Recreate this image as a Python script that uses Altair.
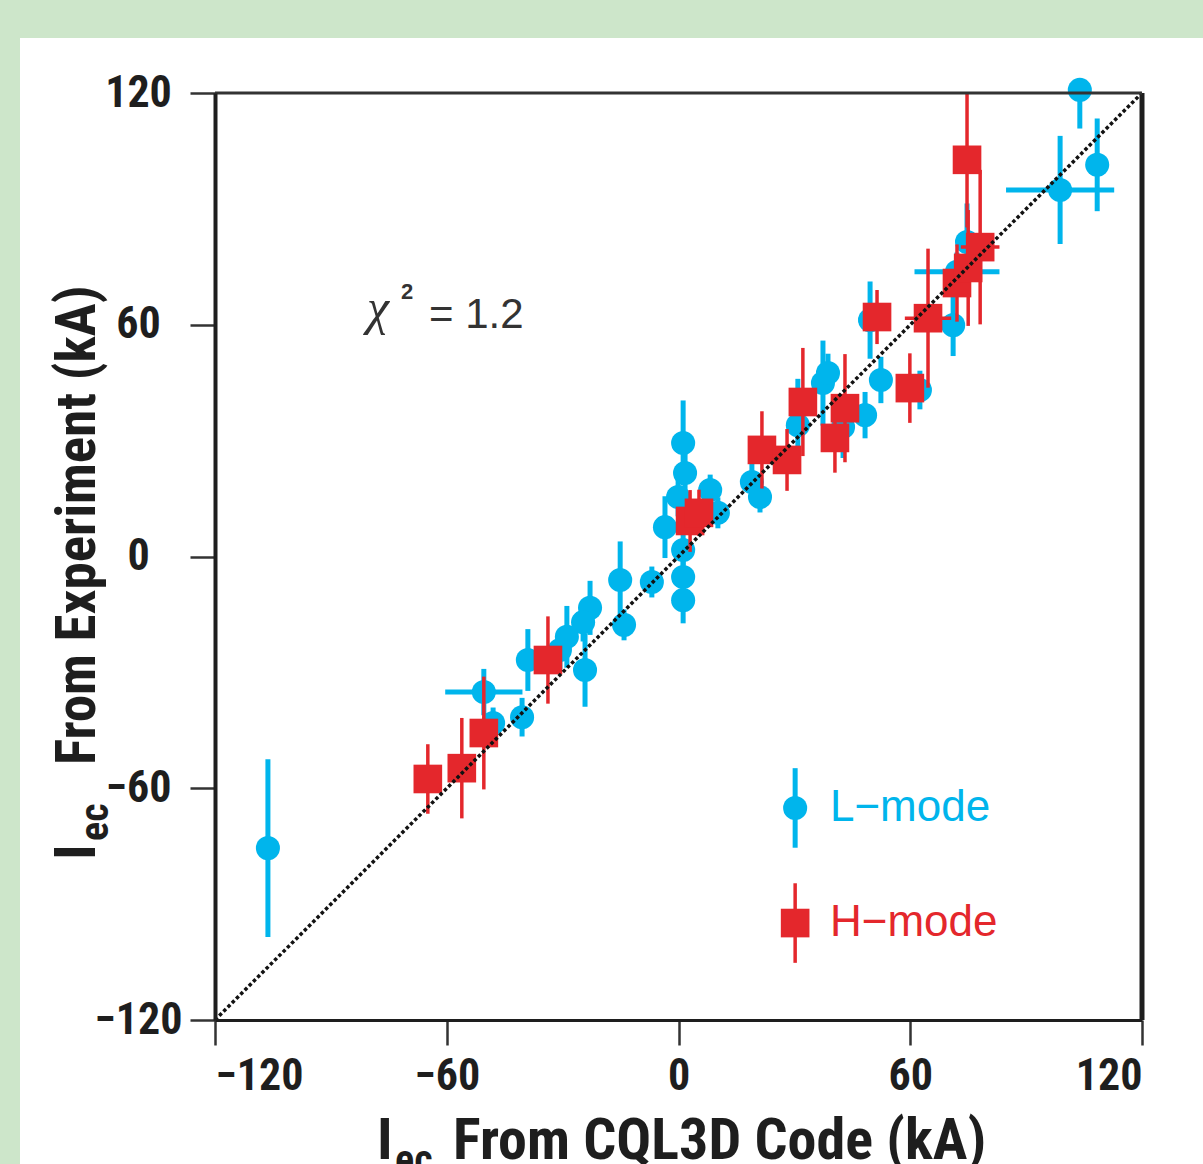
import altair as alt
import pandas as pd

# ---------------- data (kA) ----------------
# L-mode (blue circles)
l_x = [-106.3, 103.9, 108.4, 98.8, 74.7, 72.1, 71.1, 49.6, 52.4, 62.5, 48.3, 37.4, 38.7,
       30.9, 42.6, 19.0, 21.1, 10.2, 8.2, 1.2, 1.7, -0.1, -3.5, 1.2, 1.2, 1.2, -6.9,
       -15.1, -14.1, -22.9, -24.7, -28.9, -24.2, -30.7, -39.0, -50.4, -40.5, -48.0]
l_y = [-75.5, 120.8, 101.4, 94.9, 81.4, 73.7, 59.9, 61.2, 45.7, 43.1, 36.6, 44.9, 47.5,
       34.0, 33.5, 19.3, 15.4, 11.3, 17.2, 29.4, 21.6, 15.4, 7.6, 1.7, -5.3, -11.3, -6.6,
       -6.1, -17.7, -13.3, -17.0, -20.8, -29.4, -24.2, -26.8, -35.1, -41.6, -43.1]
l_yerr = [23, 10, 12, 14, 10, 5, 8, 10, 6, 5, 6, 11, 5,
          12, 8, 5, 4, 4, 4, 11, 5, 5, 8, 4, 5, 6, 4,
          10, 4, 7, 5, 8, 9.5, 5, 8, 6, 5, 4]
l_xerr = [0, 0, 0, 14, 0, 11, 0, 3, 0, 0, 0, 0, 0,
          0, 0, 0, 0, 0, 0, 0, 0, 0, 0, 0, 0, 0, 0,
          0, 0, 0, 0, 0, 0, 0, 0, 10, 0, 0]

# H-mode (red squares)
h_x = [-64.9, -56.1, -50.4, -33.8, 3.0, 5.3, 21.6, 28.1, 32.2, 40.5, 43.1, 51.4, 59.9,
       64.6, 72.1, 75.0, 78.1, 74.7]
h_y = [-57.6, -54.8, -45.7, -26.8, 9.2, 11.3, 27.6, 25.0, 40.0, 30.7, 38.4, 62.0, 43.6,
       61.7, 70.8, 74.7, 80.1, 102.7]
h_yerr = [9, 13, 14.6, 11.3, 8, 6, 10, 8, 14, 9, 14, 7, 9,
          18, 10, 15, 20, 17.5]
h_xerr = [0, 0, 0, 0, 0, 0, 0, 0, 0, 0, 0, 0, 0,
          6, 0, 0, 5, 0]

ticks = [-120, -60, 0, 60, 120]
legend_labels = ["L\u2212mode", "H\u2212mode"]
chi_parts = ["\u03c7", "2", "= 1.2"]
x_title_parts = ["I", "ec", "From CQL3D Code (kA)"]
y_title_parts = ["I", "ec", "From Experiment (kA)"]

# ---------------- styles ----------------
BLUE = "#00b5ec"
RED = "#e4272c"
GREEN = "#cde6ca"
INK = "#1e1e1e"
BOLD = "Liberation Sans Narrow, Arial Narrow, Roboto Condensed, DejaVu Sans Condensed, sans-serif"
SANS = "Liberation Sans, Arial, Helvetica, sans-serif"
SERIF = "Liberation Serif, Times New Roman, serif"
W = H = 927

blue = pd.DataFrame({"x": l_x, "y": l_y, "ye": l_yerr, "xe": l_xerr})
red = pd.DataFrame({"x": h_x, "y": h_y, "ye": h_yerr, "xe": h_xerr})

xs = alt.Scale(domain=[ticks[0], ticks[-1]], nice=False, zero=False)
ys = alt.Scale(domain=[ticks[0], ticks[-1]], nice=False, zero=False)

xaxis = alt.Axis(values=ticks, title=None, grid=False, domainColor=INK, domainWidth=3,
                 tickColor="#333", tickWidth=2.5, tickSize=25, labelFont=BOLD,
                 labelFontSize=44, labelFontWeight="bold", labelColor=INK,
                 labelPadding=9, labelFlush=True, format="d", zindex=2)
yaxis = alt.Axis(values=ticks, title=None, grid=False, domainColor=INK, domainWidth=4,
                 tickColor="#333", tickWidth=2.5, tickSize=25, labelFont=BOLD,
                 labelFontSize=44, labelFontWeight="bold", labelColor=INK,
                 labelAlign="center", labelBaseline="middle", labelPadding=52, format="d",
                 zindex=2)

X = alt.X("x:Q", scale=xs, axis=xaxis)
Y = alt.Y("y:Q", scale=ys, axis=yaxis)

anno = pd.DataFrame({"k": [0]})

# background panels
green_bg = alt.Chart(anno).mark_rect(color=GREEN).encode(
    x=alt.value(-215), x2=alt.value(988), y=alt.value(-93), y2=alt.value(1071))
white_bg = alt.Chart(anno).mark_rect(color="white").encode(
    x=alt.value(-195), x2=alt.value(988), y=alt.value(-55), y2=alt.value(1071))


def series(df, color, ew, marker):
    v = alt.Chart(df).transform_calculate(
        lo="datum.y - datum.ye", hi="min(datum.y + datum.ye, 120)"
    ).mark_rule(color=color, strokeWidth=ew).encode(
        x=X, y=alt.Y("lo:Q", scale=ys, axis=yaxis), y2="hi:Q")
    h = alt.Chart(df).transform_filter("datum.xe > 0").transform_calculate(
        lo="datum.x - datum.xe", hi="datum.x + datum.xe"
    ).mark_rule(color=color, strokeWidth=ew).encode(
        x=alt.X("lo:Q", scale=xs, axis=xaxis), x2="hi:Q", y=Y)
    return v + h + marker.encode(x=X, y=Y)


blue_layer = series(blue, BLUE, 5,
                    alt.Chart(blue).mark_circle(size=580, color=BLUE, opacity=1))
red_layer = series(red, RED, 3.5,
                   alt.Chart(red).mark_square(size=820, color=RED, opacity=1))

diag = alt.Chart(pd.DataFrame({"x": [ticks[0], ticks[-1]], "y": [ticks[0], ticks[-1]]})).mark_line(
    color="#111", strokeWidth=3.5, strokeDash=[3.5, 2.5]).encode(x=X, y=Y)

right_border = alt.Chart(anno).mark_rule(color=INK, strokeWidth=5).encode(
    x=alt.value(W), y=alt.value(0), y2=alt.value(H))
top_border = alt.Chart(anno).mark_rule(color="#333", strokeWidth=3).encode(
    x=alt.value(0), x2=alt.value(W), y=alt.value(0))

# legend
leg_x, leg_tx = 30.2, 39.2
leg_y = [-65.1, -94.9]
leg_e = 10.3
legend = []
for lab, yy, col, mk in [(legend_labels[0], leg_y[0], BLUE, "circle"),
                         (legend_labels[1], leg_y[1], RED, "square")]:
    d = pd.DataFrame({"t": [lab]})
    legend.append(alt.Chart(d).mark_rule(color=col, strokeWidth=5 if mk == "circle" else 3.5).encode(
        x=alt.datum(leg_x, scale=xs), y=alt.datum(yy - leg_e, scale=ys), y2=alt.datum(yy + leg_e)))
    if mk == "circle":
        legend.append(alt.Chart(d).mark_circle(size=580, color=col, opacity=1).encode(
            x=alt.datum(leg_x, scale=xs), y=alt.datum(yy, scale=ys)))
    else:
        legend.append(alt.Chart(d).mark_square(size=820, color=col, opacity=1).encode(
            x=alt.datum(leg_x, scale=xs), y=alt.datum(yy, scale=ys)))
    legend.append(alt.Chart(d).mark_text(font=SANS, fontSize=44, color=col, align="left",
                                         baseline="middle").encode(
        x=alt.datum(leg_tx, scale=xs), y=alt.datum(yy, scale=ys), text="t:N"))

# chi-square annotation
chi = [
    alt.Chart(pd.DataFrame({"t": [chi_parts[0]]})).mark_text(
        font=SERIF, fontStyle="italic", fontSize=50, color="#333", align="left",
        baseline="alphabetic").encode(x=alt.value(152), y=alt.value(231), text="t:N"),
    alt.Chart(pd.DataFrame({"t": [chi_parts[1]]})).mark_text(
        font=SANS, fontSize=22, fontWeight="bold", color="#333", align="left",
        baseline="alphabetic").encode(x=alt.value(186), y=alt.value(206), text="t:N"),
    alt.Chart(pd.DataFrame({"t": [chi_parts[2]]})).mark_text(
        font=SANS, fontSize=42, color="#333", align="left",
        baseline="alphabetic").encode(x=alt.value(214), y=alt.value(235), text="t:N"),
]

# axis titles built from parts (with subscript)
def txt(s, **kw):
    return alt.Chart(pd.DataFrame({"t": [s]})).mark_text(
        font=BOLD, fontWeight="bold", color=INK, baseline="alphabetic", **kw)

titles = [
    txt(x_title_parts[0], fontSize=58, align="left").encode(
        x=alt.value(162), y=alt.value(1066), text="t:N"),
    txt(x_title_parts[1], fontSize=40, align="left").encode(
        x=alt.value(180), y=alt.value(1080), text="t:N"),
    txt(x_title_parts[2], fontSize=58, align="left").encode(
        x=alt.value(238), y=alt.value(1066), text="t:N"),
    txt(y_title_parts[0], fontSize=58, align="left", angle=270).encode(
        x=alt.value(-120), y=alt.value(767), text="t:N"),
    txt(y_title_parts[1], fontSize=40, align="left", angle=270).encode(
        x=alt.value(-107), y=alt.value(748), text="t:N"),
    txt(y_title_parts[2], fontSize=55, align="left", angle=270).encode(
        x=alt.value(-120), y=alt.value(672), text="t:N"),
]

chart = alt.layer(
    green_bg, white_bg, blue_layer, red_layer, diag, right_border, top_border,
    *legend, *chi, *titles
).properties(
    width=W, height=H,
    padding={"left": 215, "top": 93, "right": 61, "bottom": 144},
    autosize=alt.AutoSizeParams(type="none"),
).configure(background=GREEN).configure_view(stroke=None)

chart.save("out.html", embed_options={"renderer": "svg", "actions": False})
